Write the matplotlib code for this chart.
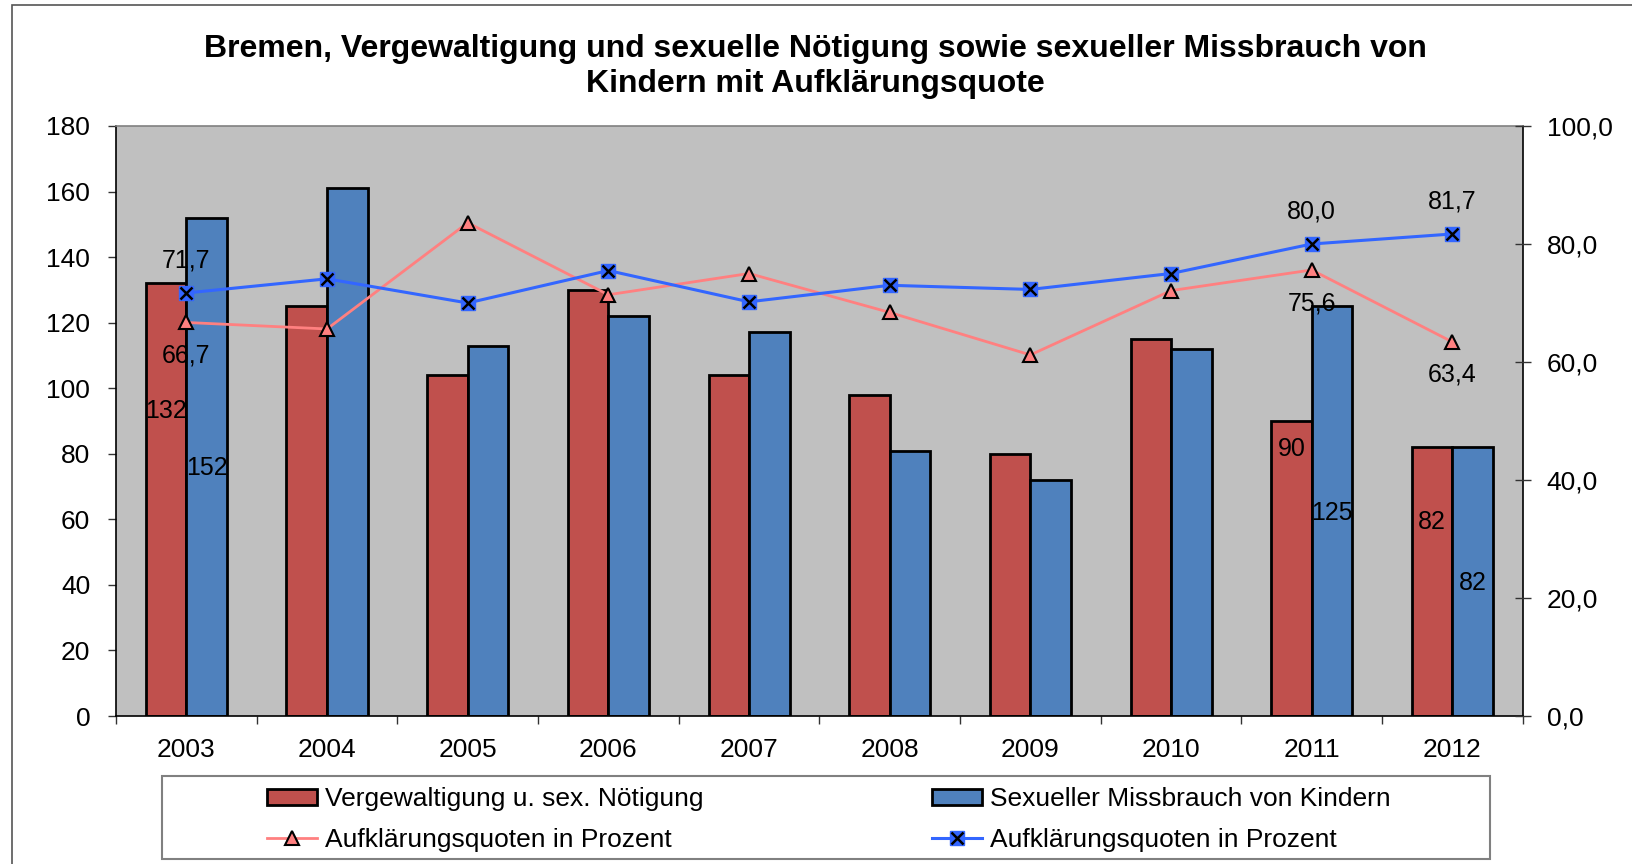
import matplotlib
matplotlib.use("Agg")
import matplotlib.pyplot as plt
from matplotlib.patches import Patch, Rectangle
from matplotlib.lines import Line2D
import numpy as np

plt.rcParams['font.family'] = ['Liberation Sans', 'DejaVu Sans']

years = ["2003", "2004", "2005", "2006", "2007", "2008", "2009", "2010", "2011", "2012"]
vergewaltigung = [132, 125, 104, 130, 104, 98, 80, 115, 90, 82]
missbrauch = [152, 161, 113, 122, 117, 81, 72, 112, 125, 82]
quote_verg = [66.7, 65.6, 83.6, 71.4, 75.0, 68.4, 61.2, 72.1, 75.6, 63.4]
quote_miss = [71.7, 74.1, 70.0, 75.5, 70.2, 73.0, 72.3, 75.0, 80.0, 81.7]

title = "Bremen, Vergewaltigung und sexuelle Nötigung sowie sexueller Missbrauch von\nKindern mit Aufklärungsquote"
lab_verg = "Vergewaltigung u. sex. Nötigung"
lab_miss = "Sexueller Missbrauch von Kindern"
lab_quote = "Aufklärungsquoten in Prozent"

# which points carry data labels, and where (layout only)
bar_label_idx = [0, 8, 9]
verg_label_y = {0: 93.1, 8: 81.4, 9: 59.1}
miss_label_y = {0: 75.7, 8: 61.8, 9: 40.7}
line_label_idx = [0, 8, 9]

RED = "#C0504D"
BLUE = "#4F81BD"
PINK = "#FF8080"
LBLUE = "#3366FF"

W, H = 1632, 864
fig = plt.figure(figsize=(W / 100, H / 100), dpi=100)
fig.patch.set_facecolor("white")

# outer chart frame
fig.patches.append(Rectangle((12 / W, -0.1), 1.2, 1 - 5 / H + 0.1, transform=fig.transFigure,
                             fill=False, edgecolor="#555555", lw=1.2))

left, right, top, bottom = 116, 1522.7, 126, 716
ax = fig.add_axes([left / W, 1 - bottom / H, (right - left) / W, (bottom - top) / H])
ax.set_facecolor("#C0C0C0")

x = np.arange(len(years))
bw = 0.288
ax.bar(x - bw / 2, vergewaltigung, bw, color=RED, edgecolor="black", linewidth=2, zorder=2)
ax.bar(x + bw / 2, missbrauch, bw, color=BLUE, edgecolor="black", linewidth=2, zorder=2)
ax.set_xlim(-0.5, len(years) - 0.5)
ax.set_ylim(0, 180)
ax.set_yticks(np.arange(0, 181, 20))
ax.set_xticks(x)
ax.set_xticklabels(years)
ax.set_xticks(np.arange(-0.5, len(years), 1), minor=True)
ax.tick_params(axis="x", which="major", length=0, pad=16, labelsize=19)
ax.tick_params(axis="x", which="minor", length=6, width=1, direction="out", color="#333333")
ax.tick_params(axis="y", length=6, width=1, direction="out", pad=12.5, labelsize=19, color="#333333")
for s in ["left", "bottom", "right"]:
    ax.spines[s].set_color("black")
    ax.spines[s].set_linewidth(1.2)
ax.spines["top"].set_color("#808080")
ax.spines["top"].set_linewidth(1.2)

for i in bar_label_idx:
    ax.text(x[i] - bw / 2, verg_label_y[i], str(vergewaltigung[i]), ha="center", va="center",
            fontsize=18, zorder=5)
    ax.text(x[i] + bw / 2, miss_label_y[i], str(missbrauch[i]), ha="center", va="center",
            fontsize=18, zorder=5)

ax2 = ax.twinx()
ax2.set_ylim(0, 100)
ax2.set_yticks(np.arange(0, 101, 20))
ax2.set_yticklabels([f"{v:.1f}".replace(".", ",") for v in np.arange(0, 101, 20)])
ax2.tick_params(axis="y", length=11.5, width=1, direction="inout", pad=11.5, labelsize=19, color="#333333")
for s in ["left", "bottom", "right", "top"]:
    ax2.spines[s].set_visible(False)

ax2.plot(x, quote_verg, color=PINK, lw=2, marker="^", ms=10.5, mfc=PINK, mec="black", mew=1.5, zorder=3)
ax2.plot(x, quote_miss, color=LBLUE, lw=2.2, marker="s", ms=10.5, mfc=LBLUE, mec=LBLUE, zorder=3)
ax2.plot(x, quote_miss, ls="none", marker="x", ms=8.5, mec="black", mew=1.8, zorder=4)

fmt = lambda v: f"{v:.1f}".replace(".", ",")
for i in line_label_idx:
    ax2.annotate(fmt(quote_miss[i]), (x[i], quote_miss[i]), xytext=(0, 23.5), textcoords="offset points",
                 ha="center", va="center", fontsize=18, zorder=5)
    ax2.annotate(fmt(quote_verg[i]), (x[i], quote_verg[i]), xytext=(0, -23.8), textcoords="offset points",
                 ha="center", va="center", fontsize=18, zorder=5)

fig.text(815 / W, 1 - 66.5 / H, title, ha="center", va="center", fontsize=23, fontweight="bold",
         multialignment="center", linespacing=1.25)

# legend frame
fig.patches.append(Rectangle((161.7 / W, 1 - 859.3 / H), (1490 - 161.7) / W, (859.3 - 775.7) / H,
                             transform=fig.transFigure, fill=False, edgecolor="#808080", lw=1.5))

h_verg = Patch(facecolor=RED, edgecolor="black", linewidth=2)
h_miss = Patch(facecolor=BLUE, edgecolor="black", linewidth=2)
h_qv = Line2D([], [], color=PINK, lw=2, marker="^", ms=10.5, mfc=PINK, mec="black", mew=1.5)
h_qm = (Line2D([], [], color=LBLUE, lw=2.2, marker="s", ms=10.5, mfc=LBLUE, mec=LBLUE),
        Line2D([], [], ls="none", marker="x", ms=8.5, mec="black", mew=1.8))

common = dict(loc="center left", bbox_transform=fig.transFigure, frameon=False, borderpad=0,
              borderaxespad=0, fontsize=19, handlelength=1.9, handleheight=0.57,
              handletextpad=0.32, labelspacing=0.62)
yc = 1 - 819.5 / H
fig.legend([h_verg, h_qv], [lab_verg, lab_quote], bbox_to_anchor=(266.7 / W, yc), **common)
fig.legend([h_miss, h_qm], [lab_miss, lab_quote], bbox_to_anchor=(931.7 / W, yc), **common)

fig.savefig("out.png", dpi=100)
